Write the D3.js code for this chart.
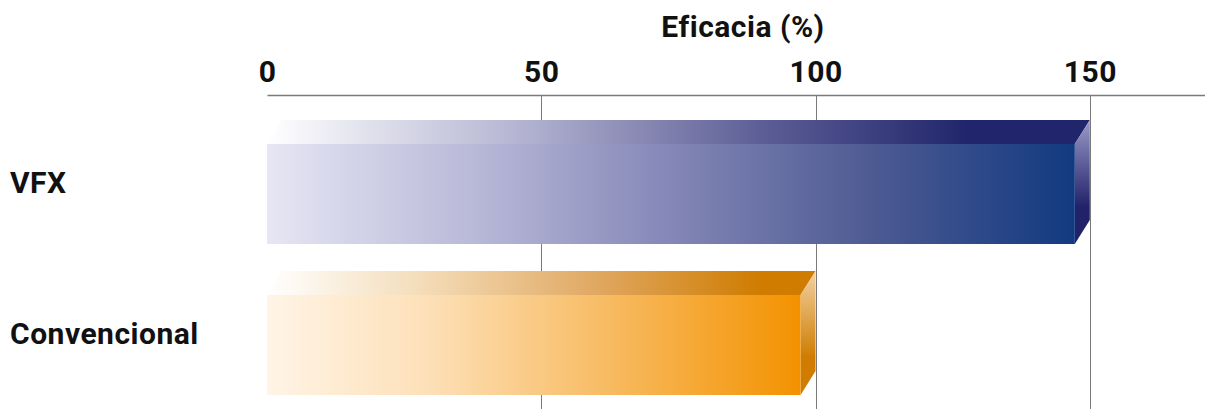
<!DOCTYPE html>
<html>
<head>
<meta charset="utf-8">
<script src="https://cdn.jsdelivr.net/npm/d3@7/dist/d3.min.js"></script>
<style>
  html, body { margin: 0; padding: 0; background: #fff; }
  svg text { font-family: Roboto, "DejaVu Sans", sans-serif; font-weight: 700; fill: #111; letter-spacing: 0.5px; }
</style>
</head>
<body>
<svg id="chart" width="1205" height="409"></svg>
<script>
// Efficacy per treatment, in percent
const categories = ["VFX", "Convencional"];
const values = [150, 100];
const tickValues = [0, 50, 100, 150];
const axisTitle = "Eficacia (%)";

// Gradient stops per bar: front face, top face, side face
const frontStops = [
  [[0, "#e6e6f4"], [0.25, "#babad9"], [0.5, "#8487b7"], [0.75, "#4d5a92"], [1, "#123a80"]],
  [[0, "#fff4e6"], [0.3, "#fde0b8"], [0.6, "#f8bf6c"], [1, "#f39200"]]
];
const topStops = [
  [[0, "#ffffff"], [0.3, "#b6b6d3"], [0.6, "#5d5e96"], [0.85, "#21266c"], [1, "#21266c"]],
  [[0, "#ffffff"], [0.3, "#f3dab4"], [0.6, "#e0a862"], [0.9, "#cf7c00"], [1, "#cf7c00"]]
];
const sideStops = [
  [[0, "#9a9ac8"], [0.7, "#22226a"], [1, "#22226a"]],
  [[0, "#f2d2a4"], [0.7, "#cf7c00"], [1, "#cf7c00"]]
];

const svg = d3.select("#chart");
const depthX = 15, depthY = 24;

const x = d3.scaleLinear().domain([0, 171]).range([267, 1205]);
const y = d3.scaleBand().domain(categories).range([144, 395]).paddingInner(0.3377).paddingOuter(0);

const defs = svg.append("defs");
function gradient(id, stops, vertical) {
  const g = defs.append("linearGradient").attr("id", id)
    .attr("x1", 0).attr("y1", 0)
    .attr("x2", vertical ? 0 : 1).attr("y2", vertical ? 1 : 0);
  stops.forEach(([o, c]) => g.append("stop").attr("offset", o).attr("stop-color", c));
}
categories.forEach((c, i) => {
  gradient("front" + i, frontStops[i], false);
  gradient("top" + i, topStops[i], false);
  gradient("side" + i, sideStops[i], true);
});

// Grid lines (behind the bars)
svg.append("g").selectAll("line")
  .data(tickValues.filter(d => d > 0))
  .join("line")
  .attr("x1", d => Math.round(x(d)) + 0.5).attr("x2", d => Math.round(x(d)) + 0.5)
  .attr("y1", 95).attr("y2", 409)
  .attr("stroke", "#7a7a7a").attr("stroke-width", 1);

// Top axis
const axis = svg.append("g").attr("transform", "translate(0,95)")
  .call(d3.axisTop(x).tickValues(tickValues).tickSize(0).tickSizeOuter(0).tickPadding(13));
axis.select(".domain").attr("stroke", "#7a7a7a").attr("stroke-width", 1.5);
axis.selectAll("text").attr("font-size", 30).attr("font-family", null).attr("fill", "#111");

svg.append("text").attr("x", 743).attr("y", 37).attr("text-anchor", "middle")
  .attr("font-size", 30).text(axisTitle);

// 3D bars: the back edge reaches the value, the front face is offset by the depth
const bars = svg.append("g").selectAll("g").data(categories).join("g");
bars.each(function (c, i) {
  const g = d3.select(this);
  const x0 = x(0), xv = x(values[i]);
  const yt = y(c), h = y.bandwidth();
  const xf = xv - depthX;
  // top face
  g.append("path")
    .attr("d", `M${x0},${yt} L${x0 + depthX},${yt - depthY} L${xv},${yt - depthY} L${xf},${yt} Z`)
    .attr("fill", `url(#top${i})`);
  // side face
  g.append("path")
    .attr("d", `M${xf},${yt} L${xv},${yt - depthY} L${xv},${yt - depthY + h} L${xf},${yt + h} Z`)
    .attr("fill", `url(#side${i})`);
  // front face
  g.append("rect").attr("x", x0).attr("y", yt).attr("width", xf - x0).attr("height", h)
    .attr("fill", `url(#front${i})`);
});

// Category labels, centred on the whole box
svg.append("g").selectAll("text").data(categories).join("text")
  .attr("x", 10)
  .attr("y", d => y(d) + y.bandwidth() / 2 - depthY / 2)
  .attr("dy", "0.36em")
  .attr("font-size", 30)
  .text(d => d);
</script>
</body>
</html>
